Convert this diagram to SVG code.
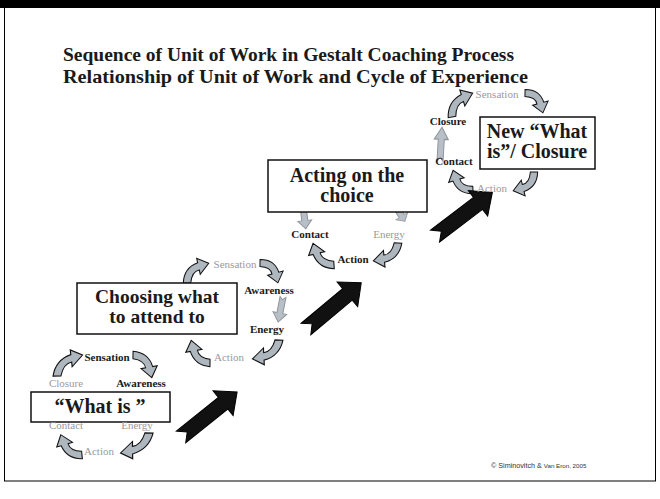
<svg xmlns="http://www.w3.org/2000/svg" width="660" height="499" viewBox="0 0 660 499">
<style>
.title{font-family:"Liberation Serif","Times New Roman",serif;font-weight:bold;font-size:19.5px;fill:#1a1a1a}
.box{fill:#fff;stroke:#111;stroke-width:1.5}
.bt{font-family:"Liberation Serif","Times New Roman",serif;font-weight:bold;font-size:20px;fill:#1a1a1a;text-anchor:middle}
.lb{font-family:"Liberation Serif","Times New Roman",serif;font-weight:bold;font-size:11px;fill:#1a1a1a;text-anchor:middle}
.lg{font-family:"Liberation Serif","Times New Roman",serif;font-size:11px;fill:#9a9a9a;text-anchor:middle}
.ca{fill:#aeb6be;stroke:#111;stroke-width:1}
.sa{fill:#b9bfc6;stroke:#8d949b;stroke-width:1}
.big{fill:#111;stroke:#000;stroke-width:1}
.copy{font-family:"Liberation Sans",Arial,sans-serif;fill:#333}
</style>
<defs>
<path id="curv" d="M-2.5,-2.5 Q7.5,-13 19.7,-7.1 L21.9,-11 L26.7,0.9 L14.1,3 L16.3,-0.9 Q10.5,-5 2.5,2.5 Z"/>
<path id="strt" d="M0,-3 L18,-3 L18,-7 L28,0 L18,7 L18,3 L0,3 L3,0 Z"/>
<path id="blk" d="M0,-7.5 L54,-7.5 L54,-16 L72,0 L54,16 L54,7.5 L0,7.5 L8,0 Z"/>
</defs>
<rect x="0" y="0" width="660" height="499" fill="#fff"/>
<rect x="0" y="0" width="660" height="8" fill="#000"/>
<rect x="4.5" y="4" width="651" height="477" fill="none" stroke="#000" stroke-width="1"/>
<g id="title">
<text class="title" x="63" y="61" textLength="451" lengthAdjust="spacingAndGlyphs">Sequence of Unit of Work in Gestalt Coaching Process</text>
<text class="title" x="63" y="83" textLength="465" lengthAdjust="spacingAndGlyphs">Relationship of Unit of Work and Cycle of Experience</text>
</g>
<g id="connectors">
<use href="#curv" class="ca" transform="translate(57,376) rotate(-41) scale(1.24,1)"/>
<use href="#curv" class="ca" transform="translate(133,355) rotate(48.5) scale(1.1,1)"/>
<use href="#curv" class="ca" transform="translate(149,433) rotate(143.5) scale(1.3,1)"/>
<use href="#curv" class="ca" transform="translate(82,455) rotate(-138) scale(1.1,1)"/>
<use href="#curv" class="ca" transform="translate(187,283) rotate(-44) scale(1.1,1)"/>
<use href="#curv" class="ca" transform="translate(260,263) rotate(46) scale(1,1)"/>
<use href="#strt" class="sa" transform="translate(283,297) rotate(101) scale(0.91,1)"/>
<use href="#curv" class="ca" transform="translate(279,340) rotate(143) scale(1.22,1)"/>
<use href="#curv" class="ca" transform="translate(210,363) rotate(-131.5) scale(1.1,1)"/>
<use href="#strt" class="sa" transform="translate(303,206) rotate(83) scale(0.82,1)"/>
<use href="#strt" class="sa" transform="translate(396,207) rotate(58) scale(0.6,1)"/>
<use href="#curv" class="ca" transform="translate(398,243) rotate(142.3) scale(1.14,1)"/>
<use href="#curv" class="ca" transform="translate(334,265) rotate(-135.6) scale(1.13,1)"/>
<use href="#curv" class="ca" transform="translate(452,117) rotate(-50.7) scale(1.18,1)"/>
<use href="#curv" class="ca" transform="translate(525,93) rotate(46) scale(1,1)"/>
<use href="#curv" class="ca" transform="translate(534,172) rotate(136) scale(1.05,1)"/>
<use href="#curv" class="ca" transform="translate(473,190) rotate(-137) scale(1.05,1)"/>
<use href="#strt" class="sa" transform="translate(440,161) rotate(-86.6) scale(1.21,1)"/>
<use href="#blk" class="big" transform="translate(181,437) rotate(-38.8)"/>
<use href="#blk" class="big" transform="translate(306,329) rotate(-39.9)"/>
<use href="#blk" class="big" transform="translate(435,236) rotate(-37.2)"/>
</g>
<g id="cycle1">
<rect class="box" x="31" y="392" width="139" height="30"/>
<text class="bt" x="100" y="413">“What is ”</text>
<text class="lb" x="107" y="361">Sensation</text>
<text class="lg" x="66" y="387">Closure</text>
<text class="lb" x="141" y="387">Awareness</text>
<text class="lg" x="66" y="429">Contact</text>
<text class="lg" x="137" y="429">Energy</text>
<text class="lg" x="99" y="455">Action</text>
</g>
<g id="cycle2">
<rect class="box" x="77" y="283" width="160" height="51"/>
<text class="bt" x="157" y="303" style="font-size:19.5px">Choosing what</text>
<text class="bt" x="157" y="323" style="font-size:19.5px">to attend to</text>
<text class="lg" x="235" y="268">Sensation</text>
<text class="lb" x="269" y="294">Awareness</text>
<text class="lb" x="267" y="333">Energy</text>
<text class="lg" x="229" y="361">Action</text>
</g>
<g id="cycle3">
<rect class="box" x="268" y="160" width="159" height="52"/>
<text class="bt" x="347" y="182">Acting on the</text>
<text class="bt" x="347" y="202">choice</text>
<text class="lb" x="310" y="238">Contact</text>
<text class="lg" x="389" y="238">Energy</text>
<text class="lb" x="353" y="263">Action</text>
</g>
<g id="cycle4">
<rect class="box" x="480" y="117" width="115" height="52"/>
<text class="bt" x="537" y="138">New “What</text>
<text class="bt" x="537" y="158">is”/ Closure</text>
<text class="lg" x="497" y="98">Sensation</text>
<text class="lb" x="448" y="125">Closure</text>
<text class="lb" x="454" y="165">Contact</text>
<text class="lg" x="492" y="192">Action</text>
</g>
<g id="copyright">
<text class="copy" x="491" y="468" style="font-size:7.2px">© Siminovitch &amp; <tspan style="font-size:6.2px">Van Eron, 2005</tspan></text>
</g>
</svg>
